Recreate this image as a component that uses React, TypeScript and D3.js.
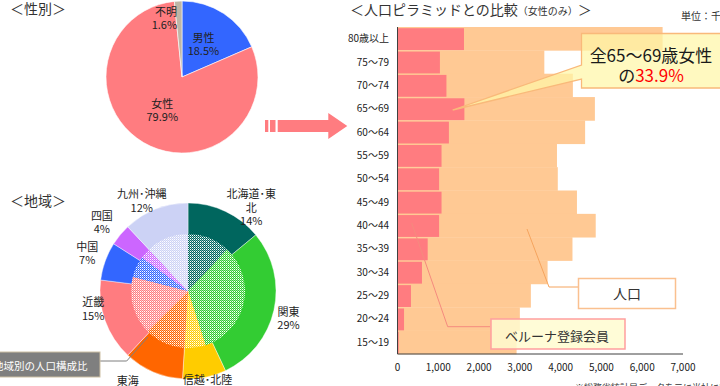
import * as d3 from "d3";

// ---- data ----
const genderLabels = ["男性", "女性", "不明"];
const genderShares = [18.5, 79.9, 1.6];
const genderColors = ["#3366FF", "#FF7C80", "#BFB6A6"];

const regionLabels = ["北海道･東北", "関東", "信越･北陸", "東海", "近畿", "中国", "四国", "九州･沖縄"];
const memberShares = [14, 29, 8, 11, 15, 7, 4, 12];
const populationShares = [12, 33, 6, 11.5, 16.5, 6, 3, 12];
const regionColors = ["#00665E", "#33CC33", "#FFCC00", "#FF6600", "#FF7C80", "#3366FF", "#CC66FF", "#CCD2F5"];

const ageGroups = [
  "80歳以上", "75～79", "70～74", "65～69", "60～64", "55～59", "50～54",
  "45～49", "40～44", "35～39", "30～34", "25～29", "20～24", "15～19",
];
const population = [6500, 3600, 4300, 4840, 4600, 3910, 3930, 4400, 4860, 4290, 3680, 3270, 3000, 2920];
const members = [1630, 1040, 1200, 1640, 1260, 1080, 1020, 1080, 1020, 740, 600, 330, 160, 30];
const xTicks = [0, 1000, 2000, 3000, 4000, 5000, 6000, 7000];

const FONT = "'Noto Sans CJK JP', 'Noto Sans', sans-serif";
const TEXT = "#333333";

// small hand nudges for the donut labels (chart tool's "best fit" placement)
const labelNudge = [[19, 11], [-1, 5], [0, -6], [-19, 1], [3, -17], [-3, -2], [-6, -2], [-8, 7]];

// wrap long labels at 5 characters, like the chart tool does
function wrap(s: string) {
  const out: string[] = [];
  for (let i = 0; i < s.length; i += 5) out.push(s.slice(i, i + 5));
  return out;
}

export default function App() {
  // gender pie
  const pcx = 182, pcy = 77, pr = 76;
  const genderPie = d3.pie<number>().sort(null)(genderShares);
  const genderArc = d3.arc<d3.PieArcDatum<number>>().innerRadius(0).outerRadius(pr);

  // region donut
  const dcx = 188, dcy = 291;
  const outerPie = d3.pie<number>().sort(null)(memberShares);
  const innerPie = d3.pie<number>().sort(null)(populationShares);
  const ringArc = d3.arc<d3.PieArcDatum<number>>().innerRadius(0).outerRadius(88);
  const coreArc = d3.arc<d3.PieArcDatum<number>>().innerRadius(0).outerRadius(57);
  const labelArc = d3.arc<d3.PieArcDatum<number>>().innerRadius(104).outerRadius(104);

  // pyramid
  const x = d3.scaleLinear().domain([0, 7000]).range([397.5, 683]);
  const y = d3.scaleBand<string>().domain(ageGroups).range([27, 354]);
  const bw = y.bandwidth();

  return (
    <svg width={720} height={386} style={{ position: "absolute", left: 0, top: 0 }} fontFamily={FONT}>
      <defs>
        {regionColors.map((c, i) => (
          <pattern key={i} id={"dot" + i} width={2} height={2} patternUnits="userSpaceOnUse">
            <rect width={2} height={2} fill={c} />
            <rect width={1} height={1} fill="#fff" />
            <rect x={1} y={1} width={1} height={1} fill="#fff" opacity={0.5} />
          </pattern>
        ))}
      </defs>

      {/* ---------- 性別 ---------- */}
      <text x={10} y={14} fontSize={14} fill={TEXT}>＜性別＞</text>
      <g transform={`translate(${pcx},${pcy})`}>
        {genderPie.map((d, i) => (
          <path key={i} d={genderArc(d) || ""} fill={genderColors[i]} stroke="#fff" strokeWidth={0.6} />
        ))}
        {genderPie.map((d, i) => {
          const small = d.endAngle - d.startAngle < 0.3;
          const r = small ? 58 : 39;
          const [lx, ly] = d3.arc<d3.PieArcDatum<number>>().innerRadius(r).outerRadius(r).centroid(d);
          const tx = small ? lx - 2 : lx;
          return (
            <text key={i} fontSize={11} fill="#222" textAnchor={small ? "end" : "middle"}>
              <tspan x={tx} y={ly - 6.5} dy="0.35em">{genderLabels[i]}</tspan>
              <tspan x={tx} y={ly + 6.5} dy="0.35em">{genderShares[i].toFixed(1)}%</tspan>
            </text>
          );
        })}
      </g>

      {/* arrow */}
      <g fill="#FF7C80">
        <rect x={265} y={120} width={3.3} height={12} />
        <rect x={270} y={120} width={5.5} height={12} />
        <path d="M277.7,120 H328.3 V113 L347.3,126 L328.3,139 V132 H277.7 Z" />
      </g>

      {/* ---------- 地域 ---------- */}
      <text x={10} y={206} fontSize={14} fill={TEXT}>＜地域＞</text>
      <g transform={`translate(${dcx},${dcy})`}>
        {outerPie.map((d, i) => (
          <path key={i} d={ringArc(d) || ""} fill={regionColors[i]} stroke="#fff" strokeWidth={0.4} />
        ))}
        {innerPie.map((d, i) => (
          <path key={i} d={coreArc(d) || ""} fill={`url(#dot${i})`} />
        ))}
        {outerPie.map((d, i) => {
          const [cx0, cy0] = labelArc.centroid(d);
          const lx = cx0 + labelNudge[i][0];
          const ly = cy0 + labelNudge[i][1];
          const lines = [...wrap(regionLabels[i]), memberShares[i] + "%"];
          const lh = 13.5;
          const y0 = ly - ((lines.length - 1) * lh) / 2;
          return (
            <text key={i} fontSize={11} fill="#222" textAnchor="middle">
              {lines.map((t, k) => (
                <tspan key={k} x={lx} y={y0 + k * lh} dy="0.35em">{t}</tspan>
              ))}
            </text>
          );
        })}
      </g>
      <polyline points="100,361 126.7,361 148,337" fill="none" stroke="#7F7F7F" strokeWidth={1} />
      <rect x={-2} y={352} width={102} height={25} fill="#7F7F7F" stroke="#CDBFA3" strokeWidth={1} />
      <text x={-7} y={370} fontSize={10.5} fill="#fff">地域別の人口構成比</text>

      {/* ---------- 人口ピラミッド ---------- */}
      <text x={350} y={15} fill={TEXT}>
        <tspan fontSize={14}>＜人口ピラミッドとの比較</tspan>
        <tspan fontSize={10}>（女性のみ）</tspan>
        <tspan fontSize={14}>＞</tspan>
      </text>
      <text x={681} y={20} fontSize={10} fill={TEXT}>単位：千人</text>

      {ageGroups.map((g, i) => (
        <rect key={"p" + i} x={x(0)} y={y(g)!} width={x(population[i]) - x(0)} height={bw + 0.3} fill="#FFC994" />
      ))}
      {ageGroups.map((g, i) => (
        <rect key={"m" + i} x={x(0)} y={y(g)! + 1.2} width={x(members[i]) - x(0)} height={bw - 1.5} fill="#FF7C80" />
      ))}

      {/* axes */}
      <line x1={x(0)} x2={x(0)} y1={27} y2={354} stroke="#404040" strokeWidth={1} />
      <line x1={x(0)} x2={x(7000)} y1={354} y2={354} stroke="#404040" strokeWidth={1} />
      {ageGroups.map((g) => (
        <text key={g} x={389} y={y(g)! + bw / 2} dy="0.35em" fontSize={10} fill="#222" textAnchor="end">{g}</text>
      ))}
      {xTicks.map((t) => (
        <text key={t} x={x(t)} y={371} fontSize={10} fill="#222" textAnchor="middle">{d3.format(",")(t)}</text>
      ))}

      {/* legend callouts */}
      <polyline points="578,287 549,287 527,229" fill="none" stroke="#F5A45E" strokeWidth={1} />
      <rect x={578.5} y={278.5} width={97} height={30} fill="#fff" stroke="#FAC08F" strokeWidth={1.5} />
      <text x={627} y={294} dy="0.35em" fontSize={14} fill={TEXT} textAnchor="middle">人口</text>

      <polyline points="490,326.7 447.7,326.7 411.7,223" fill="none" stroke="#F58A7E" strokeWidth={1} />
      <rect x={491} y={319} width={134} height={30} fill="#FFFBD0" fillOpacity={0.85} stroke="#FF9E9E" strokeWidth={1.5} />
      <text x={557} y={336} dy="0.35em" fontSize={13} fill={TEXT} textAnchor="middle">ベルーナ登録会員</text>

      {/* 65-69 callout */}
      <path d="M581.5,33.5 H724 V88 H581.5 V79 L452.7,110 L581.5,65 Z"
        fill="#FFF6A8" fillOpacity={0.72} stroke="#F9B97A" strokeWidth={1.3} />
      <text x={651} y={62} fontSize={17} fill="#1a1a1a" textAnchor="middle">全65～69歳女性</text>
      <text x={651} y={82} fontSize={17} fill="#1a1a1a" textAnchor="middle">
        の<tspan fill="#FF0000">33.9%</tspan>
      </text>

      <text x={575} y={391} fontSize={9} fill={TEXT}>※総務省統計局データを元に当社にて作成</text>
    </svg>
  );
}
